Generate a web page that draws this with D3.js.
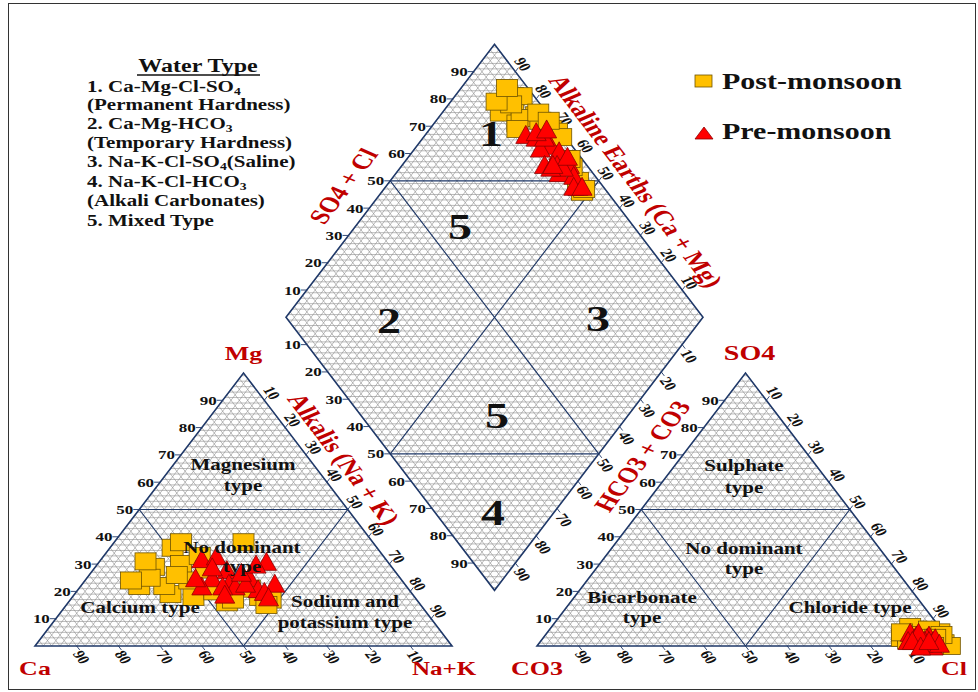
<!DOCTYPE html>
<html>
<head>
<meta charset="utf-8">
<script src="https://cdn.jsdelivr.net/npm/d3@7/dist/d3.min.js"></script>
<style>
  html, body { margin: 0; padding: 0; background: #fff; }
  svg { display: block; }
  text { font-family: "Liberation Serif", "Times New Roman", serif; font-weight: bold; }
</style>
</head>
<body>
<svg id="piper" width="978" height="692"></svg>
<script>
// ---- Sample compositions, % of meq/L ----
// Post-monsoon
const postCa   = [64, 57, 49, 46, 50, 58, 58, 53, 46, 31, 37, 35, 60, 51, 58, 65, 44, 47, 38, 53, 45, 44, 37];
const postMg   = [22, 29, 36, 38, 30, 19, 22, 18, 16, 38, 18, 17, 25, 24, 31, 24, 33, 20, 21, 26, 28, 17, 15];
const postNaK  = [14, 14, 15, 16, 20, 23, 20, 29, 38, 31, 45, 48, 15, 25, 11, 11, 23, 33, 41, 21, 27, 39, 48];
const postCl   = [90, 86, 88, 95, 87, 96, 86, 95, 94, 94, 94, 92, 89, 91, 88, 92, 97, 99, 94, 85, 95, 94, 95];
const postSO4  = [ 5,  3,  6,  2,  4,  1,  7,  3,  2,  5,  1,  2,  4,  6,  2,  3,  1,  0,  2,  5,  4,  3,  0];
const postHCO3 = [ 5, 11,  6,  3,  9,  3,  7,  2,  4,  1,  5,  6,  7,  3, 10,  5,  2,  1,  4, 10,  1,  3,  5];
// Pre-monsoon
const preCa    = [44, 40, 29, 40, 45, 42, 36, 31, 41, 44, 36, 49, 38, 35, 49, 37, 43, 32, 45, 35];
const preMg    = [32, 33, 31, 28, 25, 23, 25, 23, 22, 22, 21, 22, 23, 20, 25, 27, 29, 30, 19, 18];
const preNaK   = [24, 27, 40, 32, 30, 35, 39, 46, 37, 34, 43, 29, 39, 45, 26, 36, 28, 38, 36, 47];
const preCl    = [88, 91, 92, 94, 87, 94, 89, 93, 89, 88, 92, 95, 92, 92, 89, 89, 94, 96, 92, 93];
const preSO4   = [ 3,  2,  4,  1,  5,  2,  3,  1,  4,  2,  3,  0,  2,  1,  5,  2,  3,  1,  0,  2];
const preHCO3  = [ 9,  7,  4,  5,  8,  4,  8,  6,  7, 10,  5,  5,  6,  7,  6,  9,  3,  3,  8,  5];

const seriesNames = ["Post-monsoon", "Pre-monsoon"];
const tickValues = d3.range(10, 100, 10);
const legendTitle = "Water Type";
const legendLines = [
  "1. Ca-Mg-Cl-SO_4", "(Permanent Hardness)", "2. Ca-Mg-HCO_3", "(Temporary Hardness)",
  "3. Na-K-Cl-SO_4(Saline)", "4. Na-K-Cl-HCO_3", "(Alkali Carbonates)", "5. Mixed Type"
];
const cationLabels = ["Magnesium", "type", "No dominant", "type", "Calcium type", "Sodium and", "potassium type"];
const anionLabels  = ["Sulphate", "type", "No dominant", "type", "Bicarbonate", "type", "Chloride type"];
const diamondZones = ["1", "5", "2", "3", "5", "4"];

// ---- Layout ----
const svg = d3.select("#piper");
const K = 0.756;                       // vertical compression of the whole figure
const side = 417;
const H = side * Math.sqrt(3) / 2 * K; // triangle height in px
const base = 646, catX0 = 35, anX0 = 537;
const gap = anX0 - (catX0 + side);
const dBx = catX0 + side + gap / 2, dBy = base - gap / 2 * Math.sqrt(3) * K;
const dL = [dBx - side / 2, dBy - H];

const px = d3.scaleLinear().domain([0, 100]).range([0, side]);
const py = d3.scaleLinear().domain([0, 100]).range([0, H]);

// ternary point: top component, right component
const triPt = x0 => (top, right) => [x0 + px(right + top / 2), base - py(top)];
const catPt = triPt(catX0), anPt = triPt(anX0);
// diamond point: s = SO4+Cl, n = Na+K
const diaPt = (s, n) => [dL[0] + px((s + n) / 2), dL[1] - py(s) + py(n)];

const OUTLINE = "#1f3868", GRID = "#8c8c8c", RED = "#c00000";
const lineGen = d3.line();

function segs(g, list, stroke, w) {
  g.selectAll(null).data(list).join("path")
    .attr("d", d => lineGen(d)).attr("fill", "none")
    .attr("stroke", stroke).attr("stroke-width", w);
}

function label(g, x, y, str, o = {}) {
  const size = o.size || 17;
  const t = g.append("text")
    .attr("transform", `translate(${x},${y}) scale(1,${K}) rotate(${o.rot || 0})`)
    .attr("text-anchor", o.anchor || "middle")
    .attr("font-size", size)
    .attr("fill", o.color || "#111")
    .attr("y", o.mid ? size * 0.35 : 0);
  let lowered = false;
  str.split(/(_\w)/).filter(s => s).forEach(part => {
    if (part[0] === "_") {
      t.append("tspan").attr("font-size", size * 0.65).attr("dy", size * 0.18).text(part.slice(1));
      lowered = true;
    } else {
      const sp = t.append("tspan").text(part);
      if (lowered) { sp.attr("dy", -size * 0.18); lowered = false; }
    }
  });
  return t;
}

// ---- Hatch grid ----
function triGrid(pt) {
  const s = [];
  for (let v = 1; v < 100; v += 2) s.push([pt(v, 0), pt(v, 100 - v)]);
  for (let v = 2; v < 100; v += 2) {
    s.push([pt(0, v), pt(100 - v, v)]);
    s.push([pt(0, 100 - v), pt(100 - v, 0)]);
  }
  return s;
}
const dGrid = [];
for (let v = 2; v < 100; v += 2) {
  dGrid.push([diaPt(v, 0), diaPt(v, 100)]);
  dGrid.push([diaPt(0, v), diaPt(100, v)]);
}
for (let d = -99; d < 100; d += 2)
  dGrid.push(d >= 0 ? [diaPt(0, d), diaPt(100 - d, 100)] : [diaPt(-d, 0), diaPt(100, 100 + d)]);

const gGrid = svg.append("g");
segs(gGrid, triGrid(catPt), GRID, 0.6);
segs(gGrid, triGrid(anPt), GRID, 0.6);
segs(gGrid, dGrid, GRID, 0.6);

// ---- Frames and zone dividers ----
const gFrame = svg.append("g");
[catPt, anPt].forEach(pt => {
  gFrame.append("path").attr("d", lineGen([pt(0, 0), pt(100, 0), pt(0, 100)]) + "Z")
    .attr("fill", "none").attr("stroke", OUTLINE).attr("stroke-width", 1.6);
  segs(gFrame, [[pt(50, 0), pt(50, 50)], [pt(50, 0), pt(0, 50)], [pt(50, 50), pt(0, 50)]], OUTLINE, 1.1);
});
gFrame.append("path").attr("d", lineGen([diaPt(0, 0), diaPt(100, 0), diaPt(100, 100), diaPt(0, 100)]) + "Z")
  .attr("fill", "none").attr("stroke", OUTLINE).attr("stroke-width", 1.6);
segs(gFrame, [
  [diaPt(50, 0), diaPt(100, 50)], [diaPt(0, 50), diaPt(50, 100)],
  [diaPt(50, 0), diaPt(50, 100)], [diaPt(100, 50), diaPt(0, 50)]
], OUTLINE, 1.1);

// ---- Ticks and tick labels ----
const gTicks = svg.append("g");
const up = [0.607, -0.795], down = [0.607, 0.795];
const edges = [
  // horizontal labels on left-hand edges
  { pt: v => catPt(v, 0), kind: "left" },
  { pt: v => anPt(v, 0), kind: "left" },
  { pt: v => diaPt(v, 0), kind: "left" },
  { pt: v => diaPt(0, v), kind: "left" },
  // rotated labels
  { pt: v => catPt(100 - v, v), kind: "rot", dir: up, off: [7.5, -7.5] },
  { pt: v => anPt(100 - v, v), kind: "rot", dir: up, off: [8.5, -7.5] },
  { pt: v => diaPt(100, 100 - v), kind: "rot", dir: up, off: [7.5, -7.5] },
  { pt: v => diaPt(100 - v, 100), kind: "rot", dir: down, off: [7, 11.5] },
  { pt: v => catPt(0, 100 - v), kind: "rot", dir: down, off: [5, 11] },
  { pt: v => anPt(0, 100 - v), kind: "rot", dir: down, off: [5, 11] }
];
edges.forEach(e => {
  tickValues.forEach(v => {
    const [x, y] = e.pt(v);
    if (e.kind === "left") {
      segs(gTicks, [[[x, y], [x - 6, y]]], OUTLINE, 0.9);
      label(gTicks, x - 6, y, String(v), { anchor: "end", size: 17, mid: true });
    } else {
      segs(gTicks, [[[x, y], [x + e.dir[0] * 5, y + e.dir[1] * 5]]], OUTLINE, 0.9);
      label(gTicks, x + e.off[0], y + e.off[1], String(v), { size: 17, mid: true, rot: 60 });
    }
  });
});

// ---- Samples ----
function samples(ca, mg, nak, cl, so4, hco3) {
  return ca.map((_, i) => ({ ca: ca[i], mg: mg[i], nak: nak[i], cl: cl[i], so4: so4[i], hco3: hco3[i] }));
}
const post = samples(postCa, postMg, postNaK, postCl, postSO4, postHCO3);
const pre  = samples(preCa, preMg, preNaK, preCl, preSO4, preHCO3);

const positions = [
  d => catPt(d.mg, d.nak),
  d => anPt(d.so4, d.cl),
  d => diaPt(d.cl + d.so4, d.nak)
];
const SQ_W = 21, SQ_H = 17, TR_W = 20, TR_H = 18;
const triPath = (w, h) => `M0,${-h / 2}L${w / 2},${h / 2}L${-w / 2},${h / 2}Z`;

const gMarks = svg.append("g");
positions.forEach(pos => {
  gMarks.append("g").selectAll("rect").data(post).join("rect")
    .attr("x", d => pos(d)[0] - SQ_W / 2).attr("y", d => pos(d)[1] - SQ_H / 2)
    .attr("width", SQ_W).attr("height", SQ_H)
    .attr("fill", "#ffc000").attr("stroke", "#6e5300").attr("stroke-width", 0.8);
});
positions.forEach(pos => {
  gMarks.append("g").selectAll("path").data(pre).join("path")
    .attr("transform", d => `translate(${pos(d)[0]},${pos(d)[1]})`)
    .attr("d", triPath(TR_W, TR_H))
    .attr("fill", "#ff0000").attr("stroke", "#8b0000").attr("stroke-width", 0.8);
});

// ---- Zone names ----
const gZones = svg.append("g");
const triZonePos = [[208, 464], [208, 485], [207, 547], [207, 566], [105, 607], [310, 601], [310, 622]];
cationLabels.forEach((t, i) => label(gZones, catX0 + triZonePos[i][0], triZonePos[i][1], t, { size: 21, mid: true }));
const anZonePos = [[207, 465], [207, 487], [207, 548], [207, 568], [105, 597], [105, 617], [313, 607]];
anionLabels.forEach((t, i) => label(gZones, anX0 + anZonePos[i][0], anZonePos[i][1], t, { size: 21, mid: true }));

const zoneNumPos = [[491, 133], [460, 226], [389, 320], [598, 318], [497, 415], [493, 512]];
diamondZones.forEach((t, i) => label(gZones, zoneNumPos[i][0], zoneNumPos[i][1], t, { size: 48, mid: true }));

// ---- Axis titles ----
const gTitles = svg.append("g");
const catTop = catPt(100, 0), anTop = anPt(100, 0);
label(gTitles, catTop[0], catTop[1] - 20, "Mg", { size: 26, mid: true, color: RED });
label(gTitles, anTop[0] + 4, anTop[1] - 20, "SO4", { size: 28, mid: true, color: RED });
label(gTitles, catX0, base + 22, "Ca", { size: 26, mid: true, color: RED });
label(gTitles, catX0 + side - 8, base + 22, "Na+K", { size: 25, mid: true, color: RED });
label(gTitles, anX0, base + 22, "CO3", { size: 26, mid: true, color: RED });
label(gTitles, anX0 + side, base + 22, "Cl", { size: 26, mid: true, color: RED });
label(gTitles, 343, 186, "SO4 + Cl", { size: 28, mid: true, rot: -60, color: RED });
label(gTitles, 636, 181, "Alkaline Earths (Ca + Mg)", { size: 28, mid: true, rot: 60, color: RED });
label(gTitles, 344, 459, "Alkalis (Na + K)", { size: 28, mid: true, rot: 60, color: RED });
label(gTitles, 642, 456, "HCO3 + CO3", { size: 28, mid: true, rot: -60, color: RED });

// ---- Water type key ----
const gKey = svg.append("g");
label(gKey, 198, 72, legendTitle, { size: 24 });
gKey.append("line").attr("x1", 137).attr("x2", 260).attr("y1", 75).attr("y2", 75)
  .attr("stroke", "#111").attr("stroke-width", 1.3);
const keyBase = [92, 110, 129, 148, 167, 187, 206, 226];
legendLines.forEach((t, i) => label(gKey, 87, keyBase[i], t, { size: 21, anchor: "start" }));

// ---- Series legend ----
const gLeg = svg.append("g");
gLeg.append("rect").attr("x", 695).attr("y", 75).attr("width", 17).attr("height", 12)
  .attr("fill", "#ffc000").attr("stroke", "#6e5300").attr("stroke-width", 0.8);
gLeg.append("path").attr("transform", "translate(704,133)").attr("d", triPath(18, 12))
  .attr("fill", "#ff0000").attr("stroke", "#8b0000").attr("stroke-width", 0.8);
label(gLeg, 722, 81, seriesNames[0], { size: 30, anchor: "start", mid: true });
label(gLeg, 722, 131, seriesNames[1], { size: 30, anchor: "start", mid: true });

// ---- Outer border ----
svg.append("rect").attr("x", 8.5).attr("y", 3.5).attr("width", 967).attr("height", 686)
  .attr("fill", "none").attr("stroke", "#333").attr("stroke-width", 1);
</script>
</body>
</html>
